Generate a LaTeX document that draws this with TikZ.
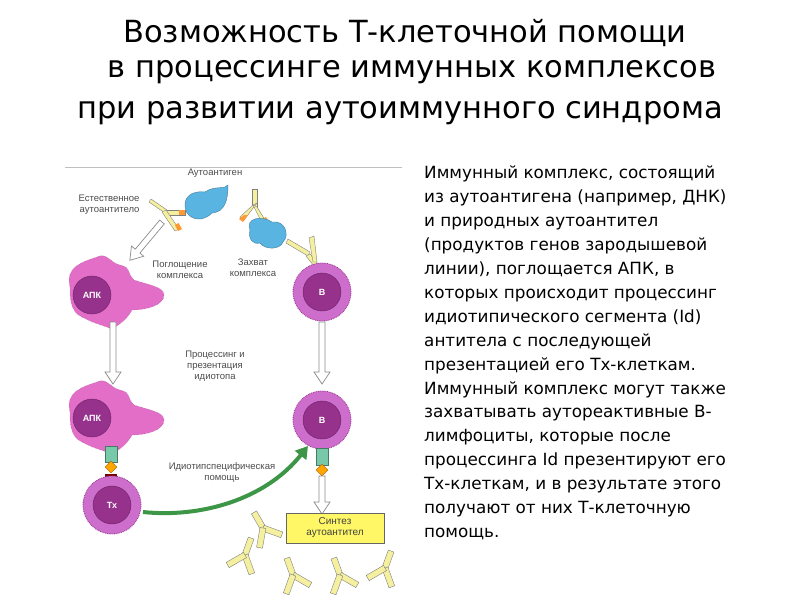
\documentclass[tikz,border=0pt]{standalone}
\usepackage{fontspec}
\setmainfont{DejaVu Sans}
\newfontfamily\lab{Liberation Sans}
\usetikzlibrary{arrows.meta,shapes.geometric}
\definecolor{cellpink}{RGB}{226,110,200}
\definecolor{nucl}{RGB}{150,50,140}
\definecolor{bcell}{RGB}{205,110,205}
\definecolor{ylw}{RGB}{245,240,160}
\definecolor{agb}{RGB}{90,180,225}
\definecolor{rec}{RGB}{120,200,170}
\definecolor{grn}{RGB}{60,150,70}
\tikzset{
 lbl/.style={font=\lab\fontsize{9.5}{11}\selectfont,text=black!70,align=center},
 hollow/.style={draw=black!45,fill=white,line width=0.7pt},
 nuc/.style={circle,fill=nucl,draw=nucl!70!black,minimum size=38pt,inner sep=0pt,font=\lab\bfseries\fontsize{9}{10}\selectfont,text=white},
 outer/.style={circle,fill=bcell,draw=nucl,densely dotted,line width=0.8pt,minimum size=58pt,inner sep=0pt},
 abarm/.style={fill=ylw,draw=black!50,line width=0.4pt},
 pics/ab/.style={code={
   \filldraw[abarm] (-3,0) rectangle (3,18);
   \filldraw[abarm,rotate=40] (-3,0) rectangle (3,-20);
   \filldraw[abarm,rotate=-40] (-3,0) rectangle (3,-20);}},
 pics/apk/.style={code={
   \filldraw[cellpink,draw=cellpink!70!black,densely dotted] (-42,-8) .. controls (-47,-28) and (-30,-33) .. (-15,-38) .. controls (-5,-43) and (-2,-32) .. (8,-30) .. controls (20,-27) and (14,-23) .. (22,-15) .. controls (37,-10) and (52,-8) .. (52,0) .. controls (52,10) and (35,15) .. (20,15) .. controls (15,25) and (0,37) .. (-5,32) .. controls (-20,27) and (-20,27) .. (-30,22) .. controls (-42,17) and (-42,2) .. (-42,-8) -- cycle;}},
 pics/harrow/.style={code={
   \draw[hollow] (-3,0) -- (-3,#1) -- (-8,#1) -- (0,#1+12) -- (8,#1) -- (3,#1) -- (3,0) -- cycle;}}
}
\begin{document}
\begin{tikzpicture}[x=1pt,y=-1pt]
\useasboundingbox[fill=white] (0,0) rectangle (800,600);
% title
\node (t1) at (405,33) {\fontsize{30.5}{33}\selectfont Возможность Т-клеточной помощи};
\node (t2) at (412,72) {\fontsize{30.5}{33}\selectfont в процессинге иммунных комплексов};
\node (t3) at (400,113) {\fontsize{30.5}{33}\selectfont при развитии аутоиммунного синдрома};
% right text
\node[anchor=north west,align=left,font=\fontsize{16.8}{23.9}\selectfont,inner sep=0pt] (txt) at (424,166) {Иммунный комплекс, состоящий\\из аутоантигена (например, ДНК)\\и природных аутоантител\\(продуктов генов зародышевой\\линии), поглощается АПК, в\\которых происходит процессинг\\идиотипического сегмента (Id)\\антитела с последующей\\презентацией его Тх-клеткам.\\Иммунный комплекс могут также\\захватывать аутореактивные В-\\лимфоциты, которые после\\процессинга Id презентируют его\\Тх-клеткам, и в результате этого\\получают от них Т-клеточную\\помощь.};
% panel line
\draw[black!25,line width=1pt] (65,167) -- (402,167);
% antigen 1 + antibody
\filldraw[agb,draw=agb!70!black,line width=0.4pt] (187,213) .. controls (180,198) and (192,190) .. (205,192) .. controls (215,185) and (225,190) .. (228,185) .. controls (228,200) and (225,212) .. (212,213) .. controls (203,222) and (192,220) .. (187,213) -- cycle;
\begin{scope}[shift={(165,212)}]
 \filldraw[abarm] (-16,-10) -- (-14,-13) -- (2,-2) -- (0,1) -- cycle;
 \filldraw[abarm] (0,-2) rectangle (20,3);
 \fill[orange!80] (14,-2) rectangle (20,3);
 \filldraw[abarm] (-3,0) -- (1,-2) -- (14,17) -- (10,19) -- cycle;
 \fill[orange!80] (10,13) -- (13.5,11) -- (17,17) -- (13,19) -- cycle;
\end{scope}
\node[lbl] (aag) at (215,173) {Аутоантиген};
\node[lbl,align=right,anchor=east] (eat) at (143,205) {Естественное\\аутоантитело};
% antigen 2 complex
\begin{scope}[shift={(253,195)}]
 \filldraw[abarm] (-1,-6) rectangle (4,12);
 \filldraw[abarm] (0,10) -- (4,8) -- (-9,25) -- (-13,22) -- cycle;
 \fill[orange!80] (-9,20) -- (-5,20) -- (-10,27) -- (-14,24) -- cycle;
 \filldraw[abarm] (0,10) -- (4,12) -- (14,28) -- (10,30) -- cycle;
 \fill[orange!80] (9,24) -- (13,22) -- (17,29) -- (13,31) -- cycle;
\end{scope}
\filldraw[agb,draw=agb!70!black,line width=0.4pt] (250,230) .. controls (245,218) and (262,215) .. (272,222) .. controls (285,220) and (290,235) .. (283,242) .. controls (280,250) and (265,250) .. (260,243) .. controls (252,245) and (248,238) .. (250,230) -- cycle;
\filldraw[abarm] (286,243) -- (288,239) -- (310,252) -- (308,256) -- cycle;
\filldraw[abarm] (306,256) -- (310,254) -- (318,264) -- (314,266) -- cycle;
\filldraw[abarm] (313,262) -- (317,262) -- (314,236) -- (309,238) -- cycle;
% cells
\pic at (112,295) {apk};
\node[nuc] (apk1) at (92,295) {АПК};
\node[outer] (b1o) at (322,292) {};
\node[nuc] (b1) at (322,292) {В};
\pic at (112,420) {apk};
\node[nuc] (apk2) at (92,418) {АПК};
\node[outer] (b2o) at (322,420) {};
\node[nuc] (b2) at (322,420) {В};
% receptors
\filldraw[rec,draw=rec!60!black,line width=0.4pt] (105,446) rectangle (117,462);
\node[diamond,fill=orange!70!yellow,draw=orange!70!black,minimum size=12pt,inner sep=0pt] (d1) at (111,467) {};
\fill[red!45!black] (105,474) rectangle (117,490);
\node[outer] (txo) at (112,505) {};
\node[nuc] (tx) at (112,505) {Тх};
\filldraw[rec,draw=rec!60!black,line width=0.4pt] (316,448) rectangle (328,465);
\node[diamond,fill=orange!70!yellow,draw=orange!70!black,minimum size=12pt,inner sep=0pt] (d2) at (322,470) {};
% hollow arrows
\pic[rotate=-40] at (162,222) {harrow=38};
\pic at (113,322) {harrow=50};
\pic at (322,322) {harrow=50};
\pic at (322,476) {harrow=26};
% green arrow
\coordinate (ga) at (143,512);
\coordinate (gb) at (308,446);
\draw[grn,line width=4pt,-{Triangle[length=12pt,width=14pt]}] (ga) .. controls (200,518) and (265,500) .. (gb);
% synth box
\node[draw=black!60,fill=yellow!60,minimum width=98pt,minimum height=30pt,align=center,font=\lab\fontsize{10}{11}\selectfont,text=black!75] (syn) at (335,528) {Синтез\\аутоантител};
% free antibodies
\pic[rotate=210] at (263,528) {ab};
\pic[rotate=160] at (245,555) {ab};
\pic[rotate=200] at (293,575) {ab};
\pic[rotate=200] at (340,575) {ab};
\pic[rotate=160] at (385,568) {ab};
% labels
\node[lbl] (pog) at (180,270) {Поглощение\\комплекса};
\node[lbl] (zah) at (253,268) {Захват\\комплекса};
\node[lbl] (proc) at (215,366) {Процессинг и\\презентация\\идиотопа};
\node[lbl] (idp) at (222,472) {Идиотипспецифическая\\помощь};
\end{tikzpicture}
\end{document}
